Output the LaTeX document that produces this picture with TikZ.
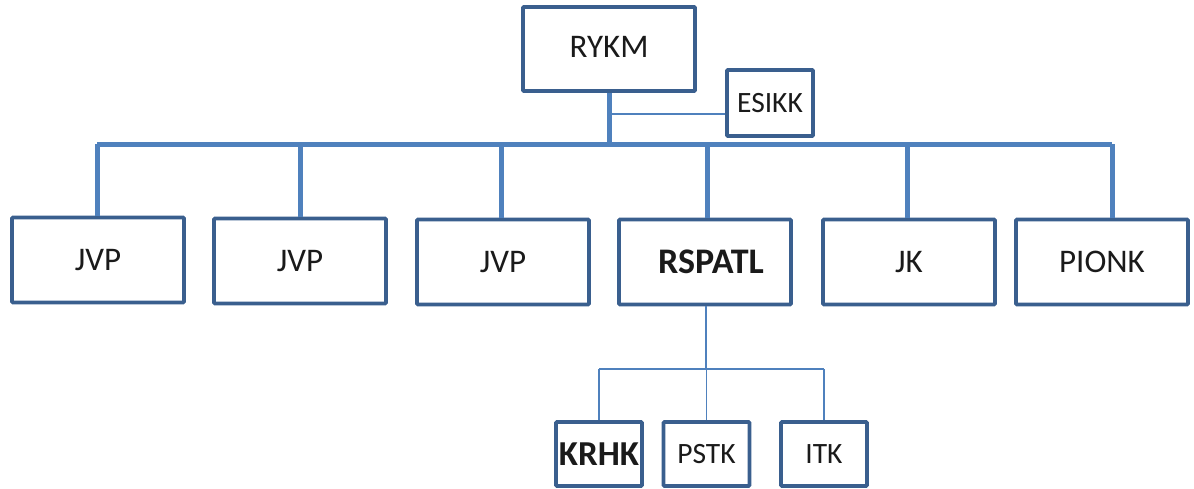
\documentclass[tikz,border=0pt]{standalone}
\usepackage{fontspec}
\setmainfont{Carlito}
\definecolor{boxline}{HTML}{3A5F8E}
\definecolor{conn}{HTML}{4F81BD}
\definecolor{txt}{HTML}{1A1A1A}
\begin{document}
\begin{tikzpicture}[x=1pt,y=-1pt,
  orgbox/.style={draw=boxline, line width=3.6pt, rounded corners=1pt, fill=white, inner sep=0pt, text=txt, font=\fontsize{33}{33}\selectfont},
  bigbox/.style={orgbox, minimum width=172pt, minimum height=85pt},
  smallbox/.style={orgbox, minimum width=86pt, minimum height=64pt, font=\fontsize{29.5}{29.5}\selectfont},
  thick conn/.style={draw=conn, line width=5pt},
  thin conn/.style={draw=conn, line width=1.6pt}]
\useasboundingbox (0,0) rectangle (1194,488);
\fill[white] (0,0) rectangle (1194,488);
\coordinate (bus) at (0,144);
\coordinate (subbus) at (0,369);
% connectors
\node[bigbox, minimum height=84pt, text=white] (rykm0) at (609,49) {};
\node[smallbox, minimum height=66pt, text=white] (esikk0) at (770,103) {};
\draw[thin conn] ([xshift=-1pt]rykm0.south |- 0,114) -- (esikk0.west |- 0,114);
\node[bigbox] (jvpa) at (98,260) {JVP};
\node[bigbox] (jvpb) at (300,261) {JVP};
\node[bigbox] (jvpc) at (503,262) {JVP};
\node[bigbox, font=\bfseries\fontsize{36}{36}\selectfont] (rspatl) at (705,262) {\hspace{12pt}RSPATL};
\node[bigbox] (jk) at (909,262) {JK};
\node[bigbox] (pionk) at (1102,262) {PIONK};
\draw[thick conn] ([xshift=-1pt]jvpa.north |- bus) -- ([xshift=10pt]pionk.north |- bus);
\draw[thick conn] (rykm0.south) -- (rykm0.south |- bus);
\draw[thick conn] ([xshift=-1pt]jvpa.north) -- ([xshift=-1pt]jvpa.north |- bus);
\draw[thick conn] (jvpb.north) -- (jvpb.north |- bus);
\draw[thick conn] ([xshift=-2pt]jvpc.north) -- ([xshift=-2pt]jvpc.north |- bus);
\draw[thick conn] ([xshift=2pt]rspatl.north) -- ([xshift=2pt]rspatl.north |- bus);
\draw[thick conn] ([xshift=-2pt]jk.north) -- ([xshift=-2pt]jk.north |- bus);
\draw[thick conn] ([xshift=10pt]pionk.north) -- ([xshift=10pt]pionk.north |- bus);
\node[bigbox, minimum height=84pt] (rykm) at (609,49) {\raisebox{4pt}{RYKM}};
\node[smallbox, minimum height=66pt] (esikk) at (770,103) {\raisebox{-5pt}{ESIKK}};
% sub level
\node[smallbox, font=\bfseries\fontsize{35}{35}\selectfont] (krhk) at (599,454) {\raisebox{-8pt}{KRHK}};
\node[smallbox] (pstk) at (706.5,454) {\raisebox{-4pt}{PSTK}};
\node[smallbox] (itk) at (824,454) {\raisebox{-4pt}{ITK}};
\draw[thin conn] ([xshift=1pt]rspatl.south) -- ([xshift=1pt]rspatl.south |- subbus);
\draw[thin conn] (krhk.north |- subbus) -- (itk.north |- subbus);
\draw[thin conn] (krhk.north) -- (krhk.north |- subbus);
\draw[thin conn] (pstk.north) -- (pstk.north |- subbus);
\draw[thin conn] (itk.north) -- (itk.north |- subbus);
\end{tikzpicture}
\end{document}
